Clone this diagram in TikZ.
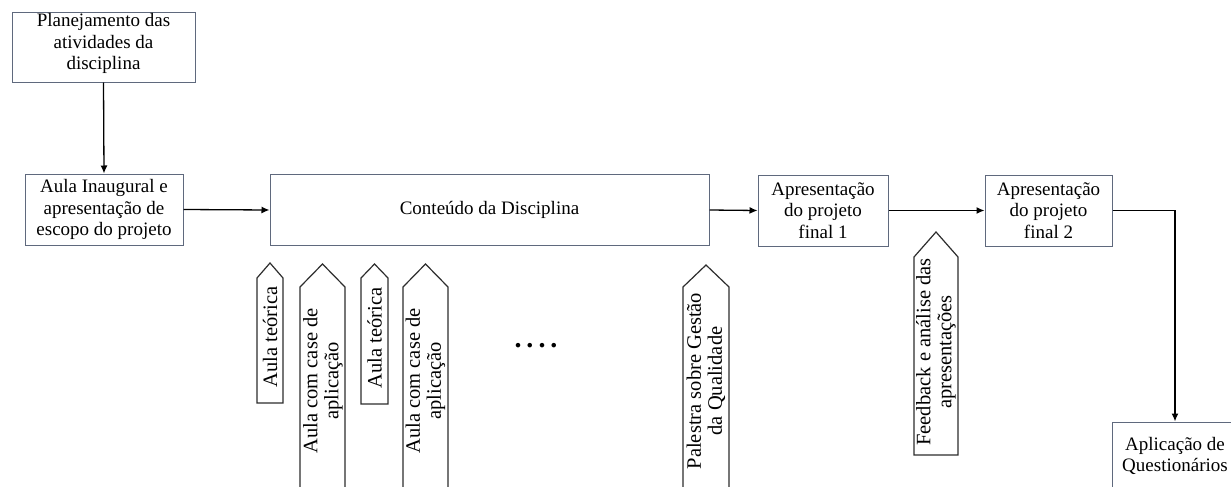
\documentclass[tikz,border=0pt]{standalone}
\usepackage{fontspec}
\setmainfont{Liberation Serif}
\usetikzlibrary{arrows.meta}
\definecolor{boxline}{RGB}{95,105,125}
\definecolor{pentline}{RGB}{45,45,45}
\tikzset{
  procbox/.style={draw=boxline, line width=1pt, fill=white, rectangle, inner sep=0pt, align=center,
    font=\fontsize{19}{21.5}\selectfont},
  boxtext/.style={inner sep=0pt, align=center, font=\fontsize{19}{21.5}\selectfont},
  conn/.style={line width=1.3pt, -{Latex[length=8pt,width=7pt]}},
  pent/.style={draw=pentline, line width=1.2pt, fill=white},
  vtext/.style={rotate=90, align=center, inner sep=0pt, font=\fontsize{20.5}{21}\selectfont}
}
\newcommand\pentshape[5]{%
  \draw[pent] (#1,#5) -- (#1,#4) -- ({(#1+#2)/2},#3) -- (#2,#4) -- (#2,#5) -- cycle;}
\begin{document}
\begin{tikzpicture}[x=1pt,y=-1pt]
\useasboundingbox (0,0) rectangle (1231,487);
\clip (0,0) rectangle (1231,487);
\fill[white] (0,0) rectangle (1231,487);

% boxes
\node[procbox, minimum width=183pt, minimum height=69pt] (plan) at (103.5,47.5) {};
\node[boxtext] (plantext) at (103.5,43.5) {Planejamento das\\atividades da\\disciplina};
\node[procbox, minimum width=158pt, minimum height=71pt] (inaug) at (104,209.5)
  {Aula Inaugural e\\apresentação de\\escopo do projeto};
\node[procbox, minimum width=439pt, minimum height=71pt] (cont) at (489.5,210)
  {Conteúdo da Disciplina};
\node[procbox, minimum width=130pt, minimum height=71pt] (apr1) at (823,210.5)
  {Apresentação\\do projeto\\final 1};
\node[procbox, minimum width=127pt, minimum height=71pt] (apr2) at (1048.5,210.5)
  {Apresentação\\do projeto\\final 2};
\node[procbox, minimum width=126pt, minimum height=68pt] (quest) at (1175,456)
  {Aplicação de\\Questionários};

% connectors
\draw[conn] (plan.south) -- (inaug.north);
\draw[conn] (inaug.east) -- (cont.west);
\draw[conn] (cont.east) -- (apr1.west);
\draw[conn] (apr1.east) -- (apr2.west);
\draw[conn] (apr2.east) -| (quest.north);

% upward pentagon tags
\pentshape{257}{283}{263}{278}{403}
\node[vtext] (t1) at (270,337) {Aula teórica};
\pentshape{300}{345}{264}{287}{500}
\node[vtext] (t2) at (323,381) {Aula com case de\\aplicação};
\pentshape{361}{388}{264}{278}{404}
\node[vtext] (t3) at (374.5,338) {Aula teórica};
\pentshape{403}{448}{264}{287}{500}
\node[vtext] (t4) at (425.5,381) {Aula com case de\\aplicação};
\pentshape{683}{729}{265}{287}{500}
\node[vtext] (t5) at (706,381) {Palestra sobre Gestão\\da Qualidade};
\pentshape{914}{958}{232}{257}{455}
\node[vtext] (t6) at (936,352) {Feedback e análise das\\apresentações};

\node[font=\fontsize{28}{28}\bfseries\selectfont, inner sep=0pt] (dots) at (536,346)
  {.\hspace{5pt}.\hspace{5pt}.\hspace{5pt}.};
\end{tikzpicture}
\end{document}
